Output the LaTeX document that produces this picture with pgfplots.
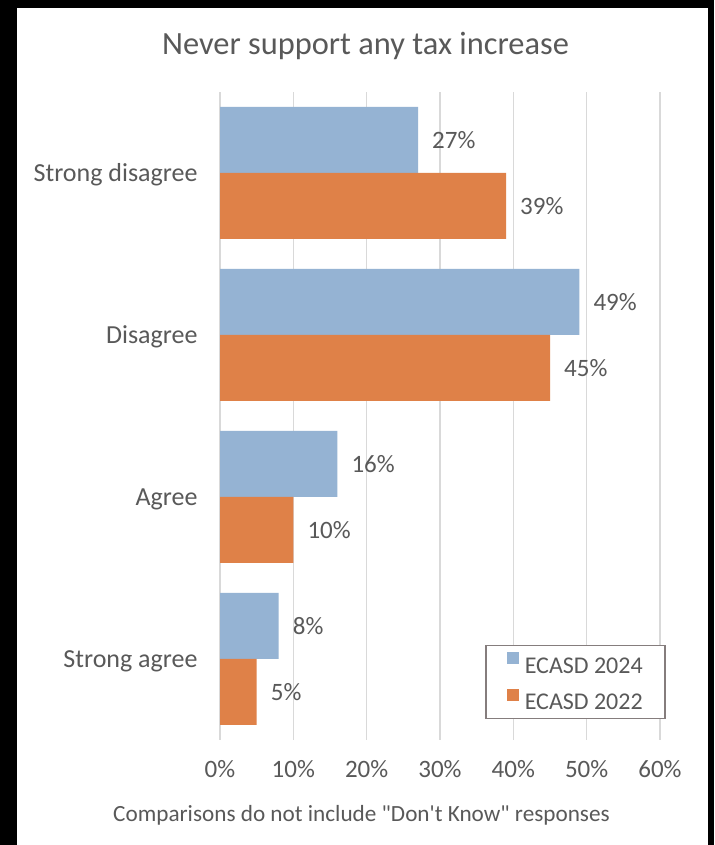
\documentclass[border=0pt]{standalone}
\usepackage{pgfplots}
\pgfplotsset{compat=1.18}
\usepackage{fontspec}
\setmainfont{Carlito}[Ligatures=TeXOff]
\definecolor{blu}{HTML}{95B3D3}
\definecolor{org}{HTML}{DF8148}
\definecolor{txt}{HTML}{595959}
\definecolor{grd}{HTML}{D9D9D9}
\definecolor{legc}{HTML}{857D7D}
\begin{document}
\begin{tikzpicture}[x=1pt,y=1pt]
\fill[black] (0,0) rectangle (714,845);
\fill[white] (17,0) rectangle (708,837);
\node[text=txt, font=\fontsize{32.4}{38}\selectfont, inner sep=0pt] at (365.5,799) {Never support any tax increase};
\node[text=txt, font=\fontsize{23.2}{27}\selectfont, inner sep=0pt] at (361.5,30) {Comparisons do not include "Don't Know" responses};
\begin{axis}[
  at={(220pt,105pt)}, anchor=south west,
  scale only axis, width=440pt, height=648pt,
  xmin=0, xmax=60, ymin=-0.5, ymax=3.5,
  xbar, bar width=66pt,
  axis line style={draw=none},
  major tick style={draw=none},
  /pgf/number format/assume math mode=true,
  xtick={0,10,...,60},
  xticklabel={\pgfmathprintnumber{\tick}\%},
  xmajorgrids,
  grid style={grd, line width=1.6pt},
  ytick={0,1,2,3},
  yticklabels={Strong agree, Agree, Disagree, Strong disagree},
  tick label style={text=txt, font=\fontsize{25}{30}\selectfont, inner sep=0pt},
  xticklabel style={anchor=base, yshift=-38pt},
  yticklabel style={font=\fontsize{26}{30}\selectfont, anchor=base east, xshift=-18pt, yshift=-8.5pt},
  point meta=x,
  nodes near coords={\pgfmathprintnumber{\pgfplotspointmeta}\%},
  nodes near coords style={text=txt, font=\fontsize{25}{30}\selectfont, anchor=base west, inner sep=0pt, xshift=14pt, yshift=-8.3pt},
  legend cell align=left,
  legend image code/.code={\path (0pt,0pt) (17pt,0pt); \fill[#1, draw=none] (2pt,1.5pt) rectangle (14pt,13.5pt);},
  legend style={at={(0.6023,0.1466)}, anchor=north west, draw=legc, line width=1.5pt,
     font=\fontsize{24}{28}\selectfont, text=txt, inner xsep=19pt, inner ysep=6.5pt,
     row sep=13pt,
     nodes={inner xsep=3pt, inner ysep=2pt, text depth=0pt}},
]
\addplot[fill=blu, draw=none, bar shift=33pt] coordinates {(8,0) (16,1) (49,2) (27,3)};
\addlegendentry{ECASD 2024}
\addplot[fill=org, draw=none, bar shift=-33pt] coordinates {(5,0) (10,1) (45,2) (39,3)};
\addlegendentry{ECASD 2022}
\end{axis}
\end{tikzpicture}
\end{document}
